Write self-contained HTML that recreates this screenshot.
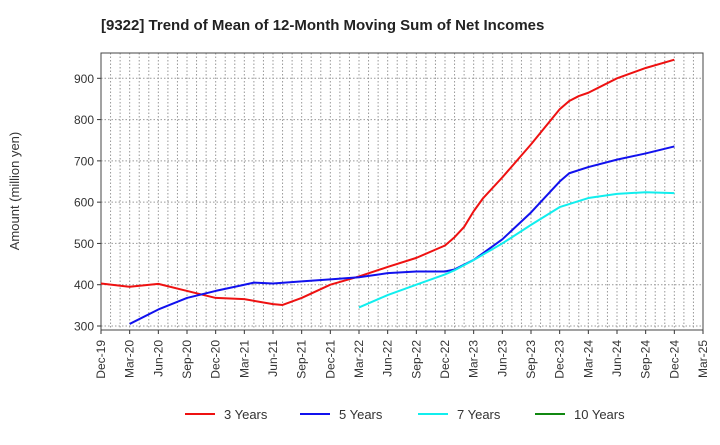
<!DOCTYPE html>
<html><head><meta charset="utf-8"><style>
body{margin:0;background:#fff;font-family:"Liberation Sans",sans-serif;}
svg text{font-family:"Liberation Sans",sans-serif;}
</style></head><body>
<svg width="720" height="440" viewBox="0 0 720 440" xmlns="http://www.w3.org/2000/svg">
<text x="101" y="30" font-size="15" font-weight="bold" fill="#222">[9322]  Trend of Mean of 12-Month Moving Sum of Net Incomes</text>
<text transform="translate(19,191) rotate(-90)" text-anchor="middle" font-size="13" fill="#333">Amount (million yen)</text>
<g id="grid"></g><g id="axes"></g><g id="series"></g><g id="legend"></g>
</svg>
<script>
const xTickLabels=["Dec-19","Mar-20","Jun-20","Sep-20","Dec-20","Mar-21","Jun-21","Sep-21","Dec-21","Mar-22","Jun-22","Sep-22","Dec-22","Mar-23","Jun-23","Sep-23","Dec-23","Mar-24","Jun-24","Sep-24","Dec-24","Mar-25"];
const yTicks=[300,400,500,600,700,800,900];
// months since Dec-19
const m3=[0,3,6,9,12,15,18,19,21,24,27,30,33,36,37,38,39,40,42,45,48,49,50,51,54,57,60];
const v3=[403,395,402,385,368,365,353,351,368,400,420,443,465,495,515,540,578,610,660,740,825,845,857,865,900,925,945];
const m5=[3,6,9,12,15,16,18,21,24,27,30,33,36,37,39,42,45,48,49,51,54,57,60];
const v5=[305,340,368,385,400,405,403,408,413,418,428,432,432,437,460,510,575,650,670,685,703,718,735];
const m7=[27,30,33,36,37,39,42,45,48,51,54,57,60];
const v7=[345,375,400,425,435,460,500,545,588,610,620,624,622];
const m10=[]; const v10=[];
const L=101,R=703,T=53,B=330;
const xs=m=>L+m*(R-L)/63;
const ys=v=>78.3+(900-v)*(326-78.3)/600;
const NS="http://www.w3.org/2000/svg";
function mk(tag,attrs,parent){const e=document.createElementNS(NS,tag);for(const k in attrs)e.setAttribute(k,attrs[k]);document.getElementById(parent).appendChild(e);return e;}
for(let m=1;m<63;m++){const e=mk('line',{x1:xs(m),x2:xs(m),y1:T,y2:B,stroke:'#999','stroke-dasharray':'1.5,2','stroke-width':1},'grid');

}
yTicks.forEach(v=>{const e=mk('line',{x1:L,x2:R,y1:ys(v),y2:ys(v),stroke:'#999','stroke-dasharray':'1.5,2','stroke-width':1},'grid');


const t=mk('text',{x:L-7,y:ys(v)+4.5,'text-anchor':'end','font-size':12,fill:'#333'},'axes');t.textContent=v;


mk('line',{x1:L-4,x2:L,y1:ys(v),y2:ys(v),stroke:'#333'},'axes');});
xTickLabels.forEach((s,i)=>{const x=xs(i*3);
mk('line',{x1:x,x2:x,y1:B,y2:B+4,stroke:'#333'},'axes');
const t=mk('text',{transform:`translate(${x+4},${B+10}) rotate(-90)`,'text-anchor':'end','font-size':12,fill:'#333'},'axes');t.textContent=s;

});
const fr=mk('rect',{x:L,y:T,width:R-L,height:B-T,fill:'none',stroke:'#444','stroke-width':1},'axes');


function line(ms,vs,c,name){if(!ms.length)return;const p=mk('polyline',{points:ms.map((m,i)=>xs(m)+','+ys(vs[i])).join(' '),fill:'none',stroke:c,'stroke-width':2,'stroke-linejoin':'round'},'series');

}
line(m3,v3,'#ee1111','series-3-years');
line(m5,v5,'#1111ee','series-5-years');
line(m7,v7,'#11eeee','series-7-years');
line(m10,v10,'#118811','series-10-years');
[['3 Years','#ee1111',185],['5 Years','#1111ee',300],['7 Years','#11eeee',418],['10 Years','#118811',535]].forEach(([s,c,x])=>{
const g=mk('g',{},'legend');


const l=document.createElementNS(NS,'line');l.setAttribute('x1',x);l.setAttribute('x2',x+30);l.setAttribute('y1',414);l.setAttribute('y2',414);l.setAttribute('stroke',c);l.setAttribute('stroke-width',2);g.appendChild(l);
const t=document.createElementNS(NS,'text');t.setAttribute('x',x+39);t.setAttribute('y',419);t.setAttribute('font-size',13);t.setAttribute('fill','#333');t.textContent=s;g.appendChild(t);});
</script>
</body></html>
